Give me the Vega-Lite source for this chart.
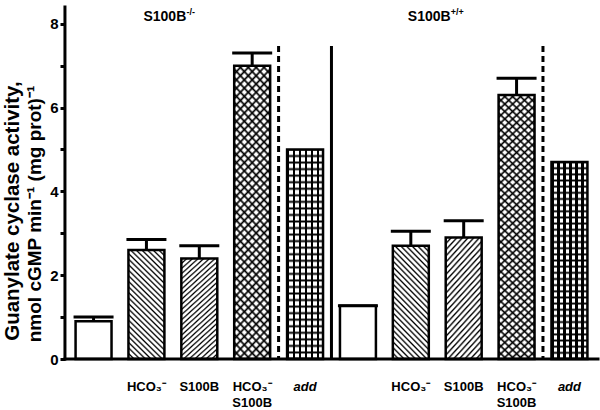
{
  "$schema": "https://vega.github.io/schema/vega-lite/v6.json",
  "width": 533,
  "height": 352,
  "autosize": {"type": "none"},
  "padding": {"left": 65, "top": 7, "right": 2, "bottom": 51},
  "background": "white",
  "config": {
    "view": {"stroke": null},
    "font": "Liberation Sans",
    "axis": {"grid": false, "domain": false, "tickColor": "black", "labelColor": "black", "titleColor": "black"}
  },
  "data": {
    "values": [
      {"slot": "KO ctrl", "genotype": "S100B-/-", "treatment": "control", "mean": 0.9, "upper": 1.0},
      {"slot": "KO HCO3", "genotype": "S100B-/-", "treatment": "HCO3", "mean": 2.6, "upper": 2.85},
      {"slot": "KO S100B", "genotype": "S100B-/-", "treatment": "S100B", "mean": 2.4, "upper": 2.7},
      {"slot": "KO both", "genotype": "S100B-/-", "treatment": "HCO3+S100B", "mean": 7.0, "upper": 7.3},
      {"slot": "KO add", "genotype": "S100B-/-", "treatment": "add", "mean": 5.0, "upper": null},
      {"slot": "WT ctrl", "genotype": "S100B+/+", "treatment": "control", "mean": 1.27, "upper": 1.27},
      {"slot": "WT HCO3", "genotype": "S100B+/+", "treatment": "HCO3", "mean": 2.7, "upper": 3.05},
      {"slot": "WT S100B", "genotype": "S100B+/+", "treatment": "S100B", "mean": 2.9, "upper": 3.3},
      {"slot": "WT both", "genotype": "S100B+/+", "treatment": "HCO3+S100B", "mean": 6.3, "upper": 6.7},
      {"slot": "WT add", "genotype": "S100B+/+", "treatment": "add", "mean": 4.7, "upper": null}
    ]
  },
  "layer": [
    {
      "mark": {"type": "bar", "fill": "white", "strokeWidth": 0},
      "encoding": {
        "x": {
          "field": "slot",
          "type": "nominal",
          "title": null,
          "sort": null,
          "scale": {
            "domain": ["KO ctrl", "KO HCO3", "KO S100B", "KO both", "KO add", "WT ctrl", "WT HCO3", "WT S100B", "WT both", "WT add"],
            "paddingInner": 0.32,
            "paddingOuter": 0.2
          },
          "axis": {
            "zindex": 1,
            "labelAngle": 0,
            "ticks": false,
            "labelPadding": 21,
            "labelFontSize": 13,
            "labelFontWeight": "bold",
            "labelLineHeight": 16,
            "labelBaseline": "top",
            "labelFontStyle": {"condition": {"test": "indexof(datum.value, 'add') >= 0", "value": "italic"}, "value": "normal"},
            "labelExpr": "indexof(datum.value, 'both') >= 0 ? ['HCO₃⁻', 'S100B'] : indexof(datum.value, 'HCO3') >= 0 ? 'HCO₃⁻' : indexof(datum.value, 'S100B') >= 0 ? 'S100B' : indexof(datum.value, 'add') >= 0 ? 'add' : ''"
          }
        },
        "y": {
          "field": "mean",
          "type": "quantitative",
          "title": null,
          "scale": {"domain": [0, 8.4], "nice": false},
          "axis": {
            "zindex": 1,
            "ticks": true,
            "values": [0, 1, 2, 3, 4, 5, 6, 7, 8],
            "labelExpr": "datum.value % 2 == 0 ? datum.label : ''",
            "tickWidth": 3,
            "tickSize": 5,
            "labelPadding": 2,
            "labelFontSize": 15,
            "labelFontWeight": "bold"
          }
        }
      }
    },
    {
      "transform": [{"filter": "datum.treatment == 'HCO3'"}],
      "mark": {"type": "bar", "strokeWidth": 0, "fill": {"gradient": "linear", "x1": 0, "y1": 1, "x2": 0.3887, "y2": -0.198, "stops": [
        {"offset": 0, "color": "#000"}, {"offset": 0.0135, "color": "#fff"}, {"offset": 0.0269, "color": "#fff"},
        {"offset": 0.0385, "color": "#000"}, {"offset": 0.0519, "color": "#fff"}, {"offset": 0.0654, "color": "#fff"},
        {"offset": 0.0769, "color": "#000"}, {"offset": 0.0904, "color": "#fff"}, {"offset": 0.1038, "color": "#fff"},
        {"offset": 0.1154, "color": "#000"}, {"offset": 0.1288, "color": "#fff"}, {"offset": 0.1423, "color": "#fff"},
        {"offset": 0.1538, "color": "#000"}, {"offset": 0.1673, "color": "#fff"}, {"offset": 0.1808, "color": "#fff"},
        {"offset": 0.1923, "color": "#000"}, {"offset": 0.2058, "color": "#fff"}, {"offset": 0.2192, "color": "#fff"},
        {"offset": 0.2308, "color": "#000"}, {"offset": 0.2442, "color": "#fff"}, {"offset": 0.2577, "color": "#fff"},
        {"offset": 0.2692, "color": "#000"}, {"offset": 0.2827, "color": "#fff"}, {"offset": 0.2962, "color": "#fff"},
        {"offset": 0.3077, "color": "#000"}, {"offset": 0.3212, "color": "#fff"}, {"offset": 0.3346, "color": "#fff"},
        {"offset": 0.3462, "color": "#000"}, {"offset": 0.3596, "color": "#fff"}, {"offset": 0.3731, "color": "#fff"},
        {"offset": 0.3846, "color": "#000"}, {"offset": 0.3981, "color": "#fff"}, {"offset": 0.4115, "color": "#fff"},
        {"offset": 0.4231, "color": "#000"}, {"offset": 0.4365, "color": "#fff"}, {"offset": 0.45, "color": "#fff"},
        {"offset": 0.4615, "color": "#000"}, {"offset": 0.475, "color": "#fff"}, {"offset": 0.4885, "color": "#fff"},
        {"offset": 0.5, "color": "#000"}, {"offset": 0.5135, "color": "#fff"}, {"offset": 0.5269, "color": "#fff"},
        {"offset": 0.5385, "color": "#000"}, {"offset": 0.5519, "color": "#fff"}, {"offset": 0.5654, "color": "#fff"},
        {"offset": 0.5769, "color": "#000"}, {"offset": 0.5904, "color": "#fff"}, {"offset": 0.6038, "color": "#fff"},
        {"offset": 0.6154, "color": "#000"}, {"offset": 0.6288, "color": "#fff"}, {"offset": 0.6423, "color": "#fff"},
        {"offset": 0.6538, "color": "#000"}, {"offset": 0.6673, "color": "#fff"}, {"offset": 0.6808, "color": "#fff"},
        {"offset": 0.6923, "color": "#000"}, {"offset": 0.7058, "color": "#fff"}, {"offset": 0.7192, "color": "#fff"},
        {"offset": 0.7308, "color": "#000"}, {"offset": 0.7442, "color": "#fff"}, {"offset": 0.7577, "color": "#fff"},
        {"offset": 0.7692, "color": "#000"}, {"offset": 0.7827, "color": "#fff"}, {"offset": 0.7962, "color": "#fff"},
        {"offset": 0.8077, "color": "#000"}, {"offset": 0.8212, "color": "#fff"}, {"offset": 0.8346, "color": "#fff"},
        {"offset": 0.8462, "color": "#000"}, {"offset": 0.8596, "color": "#fff"}, {"offset": 0.8731, "color": "#fff"},
        {"offset": 0.8846, "color": "#000"}, {"offset": 0.8981, "color": "#fff"}, {"offset": 0.9115, "color": "#fff"},
        {"offset": 0.9231, "color": "#000"}, {"offset": 0.9365, "color": "#fff"}, {"offset": 0.95, "color": "#fff"},
        {"offset": 0.9615, "color": "#000"}, {"offset": 0.975, "color": "#fff"}, {"offset": 0.9885, "color": "#fff"},
        {"offset": 1, "color": "#000"}
      ]}},
      "encoding": {"x": {"field": "slot", "type": "nominal"}, "y": {"field": "mean", "type": "quantitative"}}
    },
    {
      "transform": [{"filter": "datum.treatment == 'S100B'"}],
      "mark": {"type": "bar", "strokeWidth": 0, "fill": {"gradient": "linear", "x1": 0, "y1": 0, "x2": 0.3887, "y2": 1.198, "stops": [
        {"offset": 0, "color": "#000"}, {"offset": 0.0135, "color": "#fff"}, {"offset": 0.0269, "color": "#fff"},
        {"offset": 0.0385, "color": "#000"}, {"offset": 0.0519, "color": "#fff"}, {"offset": 0.0654, "color": "#fff"},
        {"offset": 0.0769, "color": "#000"}, {"offset": 0.0904, "color": "#fff"}, {"offset": 0.1038, "color": "#fff"},
        {"offset": 0.1154, "color": "#000"}, {"offset": 0.1288, "color": "#fff"}, {"offset": 0.1423, "color": "#fff"},
        {"offset": 0.1538, "color": "#000"}, {"offset": 0.1673, "color": "#fff"}, {"offset": 0.1808, "color": "#fff"},
        {"offset": 0.1923, "color": "#000"}, {"offset": 0.2058, "color": "#fff"}, {"offset": 0.2192, "color": "#fff"},
        {"offset": 0.2308, "color": "#000"}, {"offset": 0.2442, "color": "#fff"}, {"offset": 0.2577, "color": "#fff"},
        {"offset": 0.2692, "color": "#000"}, {"offset": 0.2827, "color": "#fff"}, {"offset": 0.2962, "color": "#fff"},
        {"offset": 0.3077, "color": "#000"}, {"offset": 0.3212, "color": "#fff"}, {"offset": 0.3346, "color": "#fff"},
        {"offset": 0.3462, "color": "#000"}, {"offset": 0.3596, "color": "#fff"}, {"offset": 0.3731, "color": "#fff"},
        {"offset": 0.3846, "color": "#000"}, {"offset": 0.3981, "color": "#fff"}, {"offset": 0.4115, "color": "#fff"},
        {"offset": 0.4231, "color": "#000"}, {"offset": 0.4365, "color": "#fff"}, {"offset": 0.45, "color": "#fff"},
        {"offset": 0.4615, "color": "#000"}, {"offset": 0.475, "color": "#fff"}, {"offset": 0.4885, "color": "#fff"},
        {"offset": 0.5, "color": "#000"}, {"offset": 0.5135, "color": "#fff"}, {"offset": 0.5269, "color": "#fff"},
        {"offset": 0.5385, "color": "#000"}, {"offset": 0.5519, "color": "#fff"}, {"offset": 0.5654, "color": "#fff"},
        {"offset": 0.5769, "color": "#000"}, {"offset": 0.5904, "color": "#fff"}, {"offset": 0.6038, "color": "#fff"},
        {"offset": 0.6154, "color": "#000"}, {"offset": 0.6288, "color": "#fff"}, {"offset": 0.6423, "color": "#fff"},
        {"offset": 0.6538, "color": "#000"}, {"offset": 0.6673, "color": "#fff"}, {"offset": 0.6808, "color": "#fff"},
        {"offset": 0.6923, "color": "#000"}, {"offset": 0.7058, "color": "#fff"}, {"offset": 0.7192, "color": "#fff"},
        {"offset": 0.7308, "color": "#000"}, {"offset": 0.7442, "color": "#fff"}, {"offset": 0.7577, "color": "#fff"},
        {"offset": 0.7692, "color": "#000"}, {"offset": 0.7827, "color": "#fff"}, {"offset": 0.7962, "color": "#fff"},
        {"offset": 0.8077, "color": "#000"}, {"offset": 0.8212, "color": "#fff"}, {"offset": 0.8346, "color": "#fff"},
        {"offset": 0.8462, "color": "#000"}, {"offset": 0.8596, "color": "#fff"}, {"offset": 0.8731, "color": "#fff"},
        {"offset": 0.8846, "color": "#000"}, {"offset": 0.8981, "color": "#fff"}, {"offset": 0.9115, "color": "#fff"},
        {"offset": 0.9231, "color": "#000"}, {"offset": 0.9365, "color": "#fff"}, {"offset": 0.95, "color": "#fff"},
        {"offset": 0.9615, "color": "#000"}, {"offset": 0.975, "color": "#fff"}, {"offset": 0.9885, "color": "#fff"},
        {"offset": 1, "color": "#000"}
      ]}},
      "encoding": {"x": {"field": "slot", "type": "nominal"}, "y": {"field": "mean", "type": "quantitative"}}
    },
    {
      "transform": [{"filter": "datum.treatment == 'HCO3+S100B'"}],
      "mark": {"type": "bar", "strokeWidth": 0, "fill": {"gradient": "linear", "x1": 0, "y1": 1, "x2": 0.1433, "y2": -0.1107, "stops": [
        {"offset": 0, "color": "#000"}, {"offset": 0.0075, "color": "#fff"}, {"offset": 0.0175, "color": "#fff"},
        {"offset": 0.025, "color": "#000"}, {"offset": 0.0325, "color": "#fff"}, {"offset": 0.0425, "color": "#fff"},
        {"offset": 0.05, "color": "#000"}, {"offset": 0.0575, "color": "#fff"}, {"offset": 0.0675, "color": "#fff"},
        {"offset": 0.075, "color": "#000"}, {"offset": 0.0825, "color": "#fff"}, {"offset": 0.0925, "color": "#fff"},
        {"offset": 0.1, "color": "#000"}, {"offset": 0.1075, "color": "#fff"}, {"offset": 0.1175, "color": "#fff"},
        {"offset": 0.125, "color": "#000"}, {"offset": 0.1325, "color": "#fff"}, {"offset": 0.1425, "color": "#fff"},
        {"offset": 0.15, "color": "#000"}, {"offset": 0.1575, "color": "#fff"}, {"offset": 0.1675, "color": "#fff"},
        {"offset": 0.175, "color": "#000"}, {"offset": 0.1825, "color": "#fff"}, {"offset": 0.1925, "color": "#fff"},
        {"offset": 0.2, "color": "#000"}, {"offset": 0.2075, "color": "#fff"}, {"offset": 0.2175, "color": "#fff"},
        {"offset": 0.225, "color": "#000"}, {"offset": 0.2325, "color": "#fff"}, {"offset": 0.2425, "color": "#fff"},
        {"offset": 0.25, "color": "#000"}, {"offset": 0.2575, "color": "#fff"}, {"offset": 0.2675, "color": "#fff"},
        {"offset": 0.275, "color": "#000"}, {"offset": 0.2825, "color": "#fff"}, {"offset": 0.2925, "color": "#fff"},
        {"offset": 0.3, "color": "#000"}, {"offset": 0.3075, "color": "#fff"}, {"offset": 0.3175, "color": "#fff"},
        {"offset": 0.325, "color": "#000"}, {"offset": 0.3325, "color": "#fff"}, {"offset": 0.3425, "color": "#fff"},
        {"offset": 0.35, "color": "#000"}, {"offset": 0.3575, "color": "#fff"}, {"offset": 0.3675, "color": "#fff"},
        {"offset": 0.375, "color": "#000"}, {"offset": 0.3825, "color": "#fff"}, {"offset": 0.3925, "color": "#fff"},
        {"offset": 0.4, "color": "#000"}, {"offset": 0.4075, "color": "#fff"}, {"offset": 0.4175, "color": "#fff"},
        {"offset": 0.425, "color": "#000"}, {"offset": 0.4325, "color": "#fff"}, {"offset": 0.4425, "color": "#fff"},
        {"offset": 0.45, "color": "#000"}, {"offset": 0.4575, "color": "#fff"}, {"offset": 0.4675, "color": "#fff"},
        {"offset": 0.475, "color": "#000"}, {"offset": 0.4825, "color": "#fff"}, {"offset": 0.4925, "color": "#fff"},
        {"offset": 0.5, "color": "#000"}, {"offset": 0.5075, "color": "#fff"}, {"offset": 0.5175, "color": "#fff"},
        {"offset": 0.525, "color": "#000"}, {"offset": 0.5325, "color": "#fff"}, {"offset": 0.5425, "color": "#fff"},
        {"offset": 0.55, "color": "#000"}, {"offset": 0.5575, "color": "#fff"}, {"offset": 0.5675, "color": "#fff"},
        {"offset": 0.575, "color": "#000"}, {"offset": 0.5825, "color": "#fff"}, {"offset": 0.5925, "color": "#fff"},
        {"offset": 0.6, "color": "#000"}, {"offset": 0.6075, "color": "#fff"}, {"offset": 0.6175, "color": "#fff"},
        {"offset": 0.625, "color": "#000"}, {"offset": 0.6325, "color": "#fff"}, {"offset": 0.6425, "color": "#fff"},
        {"offset": 0.65, "color": "#000"}, {"offset": 0.6575, "color": "#fff"}, {"offset": 0.6675, "color": "#fff"},
        {"offset": 0.675, "color": "#000"}, {"offset": 0.6825, "color": "#fff"}, {"offset": 0.6925, "color": "#fff"},
        {"offset": 0.7, "color": "#000"}, {"offset": 0.7075, "color": "#fff"}, {"offset": 0.7175, "color": "#fff"},
        {"offset": 0.725, "color": "#000"}, {"offset": 0.7325, "color": "#fff"}, {"offset": 0.7425, "color": "#fff"},
        {"offset": 0.75, "color": "#000"}, {"offset": 0.7575, "color": "#fff"}, {"offset": 0.7675, "color": "#fff"},
        {"offset": 0.775, "color": "#000"}, {"offset": 0.7825, "color": "#fff"}, {"offset": 0.7925, "color": "#fff"},
        {"offset": 0.8, "color": "#000"}, {"offset": 0.8075, "color": "#fff"}, {"offset": 0.8175, "color": "#fff"},
        {"offset": 0.825, "color": "#000"}, {"offset": 0.8325, "color": "#fff"}, {"offset": 0.8425, "color": "#fff"},
        {"offset": 0.85, "color": "#000"}, {"offset": 0.8575, "color": "#fff"}, {"offset": 0.8675, "color": "#fff"},
        {"offset": 0.875, "color": "#000"}, {"offset": 0.8825, "color": "#fff"}, {"offset": 0.8925, "color": "#fff"},
        {"offset": 0.9, "color": "#000"}, {"offset": 0.9075, "color": "#fff"}, {"offset": 0.9175, "color": "#fff"},
        {"offset": 0.925, "color": "#000"}, {"offset": 0.9325, "color": "#fff"}, {"offset": 0.9425, "color": "#fff"},
        {"offset": 0.95, "color": "#000"}, {"offset": 0.9575, "color": "#fff"}, {"offset": 0.9675, "color": "#fff"},
        {"offset": 0.975, "color": "#000"}, {"offset": 0.9825, "color": "#fff"}, {"offset": 0.9925, "color": "#fff"},
        {"offset": 1, "color": "#000"}
      ]}},
      "encoding": {"x": {"field": "slot", "type": "nominal"}, "y": {"field": "mean", "type": "quantitative"}}
    },
    {
      "transform": [{"filter": "datum.treatment == 'HCO3+S100B'"}],
      "mark": {"type": "bar", "strokeWidth": 0, "fill": {"gradient": "linear", "x1": 0, "y1": 0, "x2": 0.1433, "y2": 1.1107, "stops": [
        {"offset": 0, "color": "#000"}, {"offset": 0.0075, "color": "transparent"}, {"offset": 0.0175, "color": "transparent"},
        {"offset": 0.025, "color": "#000"}, {"offset": 0.0325, "color": "transparent"}, {"offset": 0.0425, "color": "transparent"},
        {"offset": 0.05, "color": "#000"}, {"offset": 0.0575, "color": "transparent"}, {"offset": 0.0675, "color": "transparent"},
        {"offset": 0.075, "color": "#000"}, {"offset": 0.0825, "color": "transparent"}, {"offset": 0.0925, "color": "transparent"},
        {"offset": 0.1, "color": "#000"}, {"offset": 0.1075, "color": "transparent"}, {"offset": 0.1175, "color": "transparent"},
        {"offset": 0.125, "color": "#000"}, {"offset": 0.1325, "color": "transparent"}, {"offset": 0.1425, "color": "transparent"},
        {"offset": 0.15, "color": "#000"}, {"offset": 0.1575, "color": "transparent"}, {"offset": 0.1675, "color": "transparent"},
        {"offset": 0.175, "color": "#000"}, {"offset": 0.1825, "color": "transparent"}, {"offset": 0.1925, "color": "transparent"},
        {"offset": 0.2, "color": "#000"}, {"offset": 0.2075, "color": "transparent"}, {"offset": 0.2175, "color": "transparent"},
        {"offset": 0.225, "color": "#000"}, {"offset": 0.2325, "color": "transparent"}, {"offset": 0.2425, "color": "transparent"},
        {"offset": 0.25, "color": "#000"}, {"offset": 0.2575, "color": "transparent"}, {"offset": 0.2675, "color": "transparent"},
        {"offset": 0.275, "color": "#000"}, {"offset": 0.2825, "color": "transparent"}, {"offset": 0.2925, "color": "transparent"},
        {"offset": 0.3, "color": "#000"}, {"offset": 0.3075, "color": "transparent"}, {"offset": 0.3175, "color": "transparent"},
        {"offset": 0.325, "color": "#000"}, {"offset": 0.3325, "color": "transparent"}, {"offset": 0.3425, "color": "transparent"},
        {"offset": 0.35, "color": "#000"}, {"offset": 0.3575, "color": "transparent"}, {"offset": 0.3675, "color": "transparent"},
        {"offset": 0.375, "color": "#000"}, {"offset": 0.3825, "color": "transparent"}, {"offset": 0.3925, "color": "transparent"},
        {"offset": 0.4, "color": "#000"}, {"offset": 0.4075, "color": "transparent"}, {"offset": 0.4175, "color": "transparent"},
        {"offset": 0.425, "color": "#000"}, {"offset": 0.4325, "color": "transparent"}, {"offset": 0.4425, "color": "transparent"},
        {"offset": 0.45, "color": "#000"}, {"offset": 0.4575, "color": "transparent"}, {"offset": 0.4675, "color": "transparent"},
        {"offset": 0.475, "color": "#000"}, {"offset": 0.4825, "color": "transparent"}, {"offset": 0.4925, "color": "transparent"},
        {"offset": 0.5, "color": "#000"}, {"offset": 0.5075, "color": "transparent"}, {"offset": 0.5175, "color": "transparent"},
        {"offset": 0.525, "color": "#000"}, {"offset": 0.5325, "color": "transparent"}, {"offset": 0.5425, "color": "transparent"},
        {"offset": 0.55, "color": "#000"}, {"offset": 0.5575, "color": "transparent"}, {"offset": 0.5675, "color": "transparent"},
        {"offset": 0.575, "color": "#000"}, {"offset": 0.5825, "color": "transparent"}, {"offset": 0.5925, "color": "transparent"},
        {"offset": 0.6, "color": "#000"}, {"offset": 0.6075, "color": "transparent"}, {"offset": 0.6175, "color": "transparent"},
        {"offset": 0.625, "color": "#000"}, {"offset": 0.6325, "color": "transparent"}, {"offset": 0.6425, "color": "transparent"},
        {"offset": 0.65, "color": "#000"}, {"offset": 0.6575, "color": "transparent"}, {"offset": 0.6675, "color": "transparent"},
        {"offset": 0.675, "color": "#000"}, {"offset": 0.6825, "color": "transparent"}, {"offset": 0.6925, "color": "transparent"},
        {"offset": 0.7, "color": "#000"}, {"offset": 0.7075, "color": "transparent"}, {"offset": 0.7175, "color": "transparent"},
        {"offset": 0.725, "color": "#000"}, {"offset": 0.7325, "color": "transparent"}, {"offset": 0.7425, "color": "transparent"},
        {"offset": 0.75, "color": "#000"}, {"offset": 0.7575, "color": "transparent"}, {"offset": 0.7675, "color": "transparent"},
        {"offset": 0.775, "color": "#000"}, {"offset": 0.7825, "color": "transparent"}, {"offset": 0.7925, "color": "transparent"},
        {"offset": 0.8, "color": "#000"}, {"offset": 0.8075, "color": "transparent"}, {"offset": 0.8175, "color": "transparent"},
        {"offset": 0.825, "color": "#000"}, {"offset": 0.8325, "color": "transparent"}, {"offset": 0.8425, "color": "transparent"},
        {"offset": 0.85, "color": "#000"}, {"offset": 0.8575, "color": "transparent"}, {"offset": 0.8675, "color": "transparent"},
        {"offset": 0.875, "color": "#000"}, {"offset": 0.8825, "color": "transparent"}, {"offset": 0.8925, "color": "transparent"},
        {"offset": 0.9, "color": "#000"}, {"offset": 0.9075, "color": "transparent"}, {"offset": 0.9175, "color": "transparent"},
        {"offset": 0.925, "color": "#000"}, {"offset": 0.9325, "color": "transparent"}, {"offset": 0.9425, "color": "transparent"},
        {"offset": 0.95, "color": "#000"}, {"offset": 0.9575, "color": "transparent"}, {"offset": 0.9675, "color": "transparent"},
        {"offset": 0.975, "color": "#000"}, {"offset": 0.9825, "color": "transparent"}, {"offset": 0.9925, "color": "transparent"},
        {"offset": 1, "color": "#000"}
      ]}},
      "encoding": {"x": {"field": "slot", "type": "nominal"}, "y": {"field": "mean", "type": "quantitative"}}
    },
    {
      "transform": [{"filter": "datum.treatment == 'add'"}],
      "mark": {"type": "bar", "strokeWidth": 0, "fill": {"gradient": "linear", "x1": 0, "y1": 0, "x2": 1, "y2": 0, "stops": [
        {"offset": 0, "color": "#000"}, {"offset": 0.0667, "color": "#000"}, {"offset": 0.0667, "color": "#fff"}, {"offset": 0.1667, "color": "#fff"},
        {"offset": 0.1667, "color": "#000"}, {"offset": 0.2333, "color": "#000"}, {"offset": 0.2333, "color": "#fff"}, {"offset": 0.3333, "color": "#fff"},
        {"offset": 0.3333, "color": "#000"}, {"offset": 0.4, "color": "#000"}, {"offset": 0.4, "color": "#fff"}, {"offset": 0.5, "color": "#fff"},
        {"offset": 0.5, "color": "#000"}, {"offset": 0.5667, "color": "#000"}, {"offset": 0.5667, "color": "#fff"}, {"offset": 0.6667, "color": "#fff"},
        {"offset": 0.6667, "color": "#000"}, {"offset": 0.7333, "color": "#000"}, {"offset": 0.7333, "color": "#fff"}, {"offset": 0.8333, "color": "#fff"},
        {"offset": 0.8333, "color": "#000"}, {"offset": 0.9, "color": "#000"}, {"offset": 0.9, "color": "#fff"}, {"offset": 1, "color": "#fff"}
      ]}},
      "encoding": {"x": {"field": "slot", "type": "nominal"}, "y": {"field": "mean", "type": "quantitative"}}
    },
    {
      "transform": [{"filter": "datum.treatment == 'add'"}],
      "mark": {"type": "bar", "strokeWidth": 0, "fill": {"gradient": "linear", "x1": 0, "y1": 0, "x2": 0, "y2": 1, "stops": [
        {"offset": 0, "color": "#000"}, {"offset": 0.0094, "color": "transparent"}, {"offset": 0.0219, "color": "transparent"},
        {"offset": 0.0313, "color": "#000"}, {"offset": 0.0406, "color": "transparent"}, {"offset": 0.0531, "color": "transparent"},
        {"offset": 0.0625, "color": "#000"}, {"offset": 0.0719, "color": "transparent"}, {"offset": 0.0844, "color": "transparent"},
        {"offset": 0.0938, "color": "#000"}, {"offset": 0.1031, "color": "transparent"}, {"offset": 0.1156, "color": "transparent"},
        {"offset": 0.125, "color": "#000"}, {"offset": 0.1344, "color": "transparent"}, {"offset": 0.1469, "color": "transparent"},
        {"offset": 0.1563, "color": "#000"}, {"offset": 0.1656, "color": "transparent"}, {"offset": 0.1781, "color": "transparent"},
        {"offset": 0.1875, "color": "#000"}, {"offset": 0.1969, "color": "transparent"}, {"offset": 0.2094, "color": "transparent"},
        {"offset": 0.2188, "color": "#000"}, {"offset": 0.2281, "color": "transparent"}, {"offset": 0.2406, "color": "transparent"},
        {"offset": 0.25, "color": "#000"}, {"offset": 0.2594, "color": "transparent"}, {"offset": 0.2719, "color": "transparent"},
        {"offset": 0.2813, "color": "#000"}, {"offset": 0.2906, "color": "transparent"}, {"offset": 0.3031, "color": "transparent"},
        {"offset": 0.3125, "color": "#000"}, {"offset": 0.3219, "color": "transparent"}, {"offset": 0.3344, "color": "transparent"},
        {"offset": 0.3438, "color": "#000"}, {"offset": 0.3531, "color": "transparent"}, {"offset": 0.3656, "color": "transparent"},
        {"offset": 0.375, "color": "#000"}, {"offset": 0.3844, "color": "transparent"}, {"offset": 0.3969, "color": "transparent"},
        {"offset": 0.4063, "color": "#000"}, {"offset": 0.4156, "color": "transparent"}, {"offset": 0.4281, "color": "transparent"},
        {"offset": 0.4375, "color": "#000"}, {"offset": 0.4469, "color": "transparent"}, {"offset": 0.4594, "color": "transparent"},
        {"offset": 0.4688, "color": "#000"}, {"offset": 0.4781, "color": "transparent"}, {"offset": 0.4906, "color": "transparent"},
        {"offset": 0.5, "color": "#000"}, {"offset": 0.5094, "color": "transparent"}, {"offset": 0.5219, "color": "transparent"},
        {"offset": 0.5313, "color": "#000"}, {"offset": 0.5406, "color": "transparent"}, {"offset": 0.5531, "color": "transparent"},
        {"offset": 0.5625, "color": "#000"}, {"offset": 0.5719, "color": "transparent"}, {"offset": 0.5844, "color": "transparent"},
        {"offset": 0.5938, "color": "#000"}, {"offset": 0.6031, "color": "transparent"}, {"offset": 0.6156, "color": "transparent"},
        {"offset": 0.625, "color": "#000"}, {"offset": 0.6344, "color": "transparent"}, {"offset": 0.6469, "color": "transparent"},
        {"offset": 0.6563, "color": "#000"}, {"offset": 0.6656, "color": "transparent"}, {"offset": 0.6781, "color": "transparent"},
        {"offset": 0.6875, "color": "#000"}, {"offset": 0.6969, "color": "transparent"}, {"offset": 0.7094, "color": "transparent"},
        {"offset": 0.7188, "color": "#000"}, {"offset": 0.7281, "color": "transparent"}, {"offset": 0.7406, "color": "transparent"},
        {"offset": 0.75, "color": "#000"}, {"offset": 0.7594, "color": "transparent"}, {"offset": 0.7719, "color": "transparent"},
        {"offset": 0.7813, "color": "#000"}, {"offset": 0.7906, "color": "transparent"}, {"offset": 0.8031, "color": "transparent"},
        {"offset": 0.8125, "color": "#000"}, {"offset": 0.8219, "color": "transparent"}, {"offset": 0.8344, "color": "transparent"},
        {"offset": 0.8438, "color": "#000"}, {"offset": 0.8531, "color": "transparent"}, {"offset": 0.8656, "color": "transparent"},
        {"offset": 0.875, "color": "#000"}, {"offset": 0.8844, "color": "transparent"}, {"offset": 0.8969, "color": "transparent"},
        {"offset": 0.9063, "color": "#000"}, {"offset": 0.9156, "color": "transparent"}, {"offset": 0.9281, "color": "transparent"},
        {"offset": 0.9375, "color": "#000"}, {"offset": 0.9469, "color": "transparent"}, {"offset": 0.9594, "color": "transparent"},
        {"offset": 0.9688, "color": "#000"}, {"offset": 0.9781, "color": "transparent"}, {"offset": 0.9906, "color": "transparent"},
        {"offset": 1, "color": "#000"}
      ]}},
      "encoding": {"x": {"field": "slot", "type": "nominal"}, "y": {"field": "mean", "type": "quantitative"}}
    },
    {
      "mark": {"type": "bar", "fill": "transparent", "stroke": "black", "strokeWidth": 2.5},
      "encoding": {"x": {"field": "slot", "type": "nominal"}, "y": {"field": "mean", "type": "quantitative"}}
    },
    {
      "transform": [{"filter": "datum.upper != null"}],
      "mark": {"type": "rule", "color": "black", "strokeWidth": 3},
      "encoding": {"x": {"field": "slot", "type": "nominal"}, "y": {"field": "mean", "type": "quantitative"}, "y2": {"field": "upper"}}
    },
    {
      "transform": [{"filter": "datum.upper != null"}],
      "mark": {"type": "tick", "color": "black", "size": 40, "thickness": 3, "opacity": 1},
      "encoding": {"x": {"field": "slot", "type": "nominal"}, "y": {"field": "upper", "type": "quantitative"}}
    },
    {
      "data": {"values": [{}]},
      "mark": {"type": "rule", "color": "black", "strokeWidth": 3, "strokeDash": [6, 4], "xOffset": 26.4},
      "encoding": {"x": {"datum": "KO both"}, "y": {"datum": 7.47}, "y2": {"datum": 0}}
    },
    {
      "data": {"values": [{}]},
      "mark": {"type": "rule", "color": "black", "strokeWidth": 3, "strokeDash": [6, 4], "xOffset": 26.4},
      "encoding": {"x": {"datum": "WT both"}, "y": {"datum": 7.47}, "y2": {"datum": 0}}
    },
    {
      "data": {"values": [{}]},
      "mark": {"type": "rule", "color": "black", "strokeWidth": 3, "xOffset": 26.4},
      "encoding": {"x": {"datum": "KO add"}, "y": {"datum": 7.47}, "y2": {"datum": 0}}
    },
    {
      "transform": [{"filter": "datum.slot == 'KO ctrl'"}],
      "mark": {"type": "rule", "color": "black", "strokeWidth": 3, "strokeCap": "square"},
      "encoding": {"y": {"datum": 0}}
    },
    {
      "transform": [{"filter": "datum.slot == 'KO ctrl'"}],
      "mark": {"type": "rule", "color": "black", "strokeWidth": 3, "strokeCap": "square", "xOffset": -28.6},
      "encoding": {"x": {"field": "slot", "type": "nominal"}, "y": {"datum": 8.4}, "y2": {"datum": 0}}
    },
    {
      "transform": [{"filter": "datum.treatment == 'HCO3'"}],
      "mark": {"type": "text", "align": "left", "baseline": "alphabetic", "dx": -3, "fontSize": 14, "fontWeight": "bold", "fill": "black"},
      "encoding": {"x": {"field": "slot", "type": "nominal"}, "y": {"datum": 8.07}, "text": {"value": "S100B"}}
    },
    {
      "transform": [{"filter": "datum.treatment == 'HCO3'"}],
      "mark": {"type": "text", "align": "left", "baseline": "alphabetic", "dx": 40, "dy": -6, "fontSize": 9, "fontWeight": "bold", "fill": "black"},
      "encoding": {"x": {"field": "slot", "type": "nominal"}, "y": {"datum": 8.07}, "text": {"condition": {"test": "datum.genotype == 'S100B-/-'", "value": "-/-"}, "value": "+/+"}}
    },
    {
      "transform": [{"filter": "datum.slot == 'KO ctrl'"}],
      "mark": {"type": "text", "angle": 270, "align": "center", "baseline": "middle", "fontSize": 20.5, "fontWeight": "bold", "fill": "black", "xOffset": -80.6},
      "encoding": {"x": {"field": "slot", "type": "nominal"}, "y": {"datum": 3.53}, "text": {"value": "Guanylate cyclase activity,"}}
    },
    {
      "transform": [{"filter": "datum.slot == 'KO ctrl'"}],
      "mark": {"type": "text", "angle": 270, "align": "center", "baseline": "middle", "fontSize": 19, "fontWeight": "bold", "fill": "black", "xOffset": -58.6},
      "encoding": {"x": {"field": "slot", "type": "nominal"}, "y": {"datum": 3.46}, "text": {"value": "nmol cGMP min⁻¹ (mg prot)⁻¹"}}
    }
  ]
}
